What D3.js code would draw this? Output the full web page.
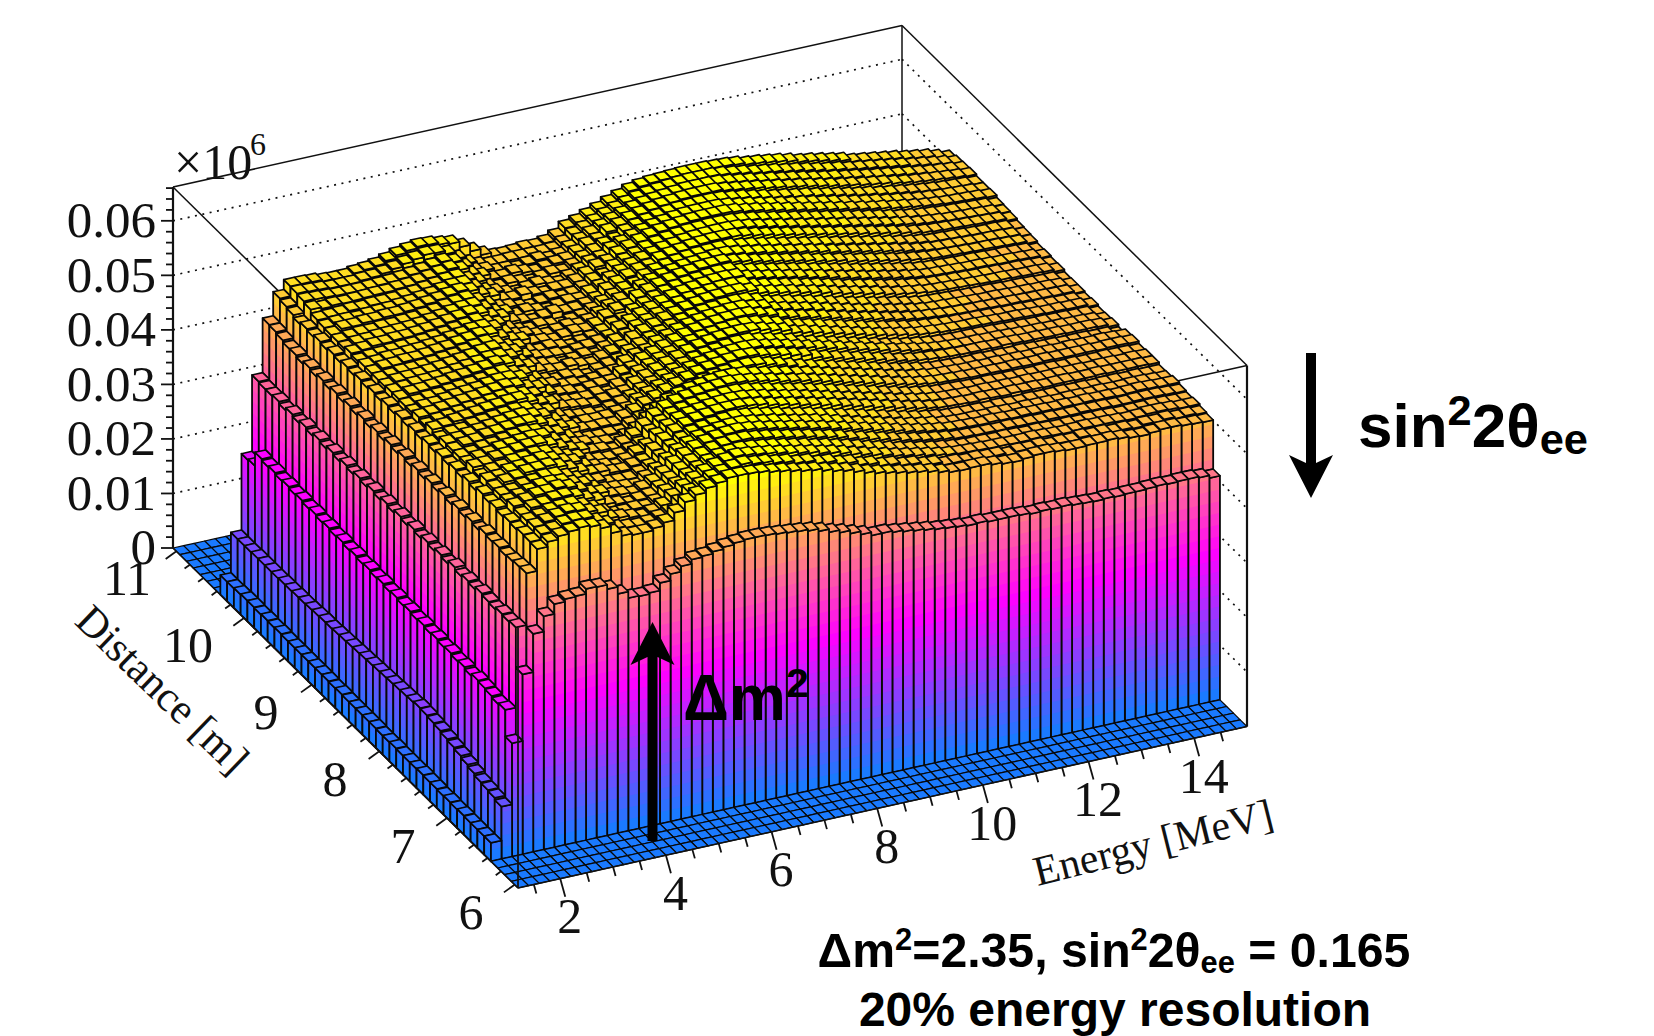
<!DOCTYPE html>
<html>
<head>
<meta charset="utf-8">
<script src="https://cdn.jsdelivr.net/npm/d3@7"></script>
<style>
  html, body { margin: 0; background: #fff; }
  svg { display: block; }
  .root { font-family: "Liberation Serif", serif; fill: #111; }
  .note { font-family: "Liberation Sans", sans-serif; font-weight: 700; fill: #000; }
</style>
</head>
<body>
<svg id="chart" width="1654" height="1036"></svg>
<script>
const energyRange = [1.2, 15];
const distanceRange = [5.95, 11.05];
const zTop = 0.0662;
const energyBinCount = 69;
const distanceBinCount = 51;
const firstFilledRow = 4;
const energyLabels = [2, 4, 6, 8, 10, 12, 14];
const distanceLabels = [6, 7, 8, 9, 10, 11];
const zLabels = [0, 0.01, 0.02, 0.03, 0.04, 0.05, 0.06];

// bin contents, in units of 1e-4, one row per distance bin from the first filled one
const binHeights = [
[34,96,208,330,400,428,446,451,452,461,460,452,439,427,426,428,442,454,464,472,474,478,482,485,487,487,486,484,482,480,477,472,466,461,455,449,443,443,440,437,434,431,428,426,424,422,423,421,421,421,420,418,419,418,419,417,416,415,416,415,416,416,417,418,417,418,418,416,411],
[34,100,257,404,499,539,548,554,558,561,558,551,538,529,526,526,530,536,550,565,574,582,587,592,592,591,589,585,582,578,574,571,566,561,557,551,545,540,536,532,528,525,521,516,512,511,512,512,509,506,505,507,509,509,507,505,505,506,506,507,505,502,501,503,505,505,503,502,501],
[34,102,255,402,498,540,550,553,560,562,561,551,542,530,527,525,527,532,538,552,567,575,584,589,594,596,592,590,585,582,576,574,567,565,558,555,547,544,537,535,529,527,521,519,513,513,510,511,509,509,505,508,507,509,505,506,505,508,506,507,504,505,503,506,505,507,504,505,503],
[34,104,258,404,496,541,551,556,561,565,563,556,550,536,533,529,525,530,538,550,563,573,582,589,594,598,596,593,590,586,582,578,574,569,565,560,554,549,544,539,534,530,526,522,518,515,513,512,511,510,510,509,509,510,509,508,507,508,509,508,508,507,506,507,509,509,508,506,506],
[35,108,260,400,494,538,549,553,559,561,562,555,546,535,526,526,528,526,532,546,555,567,576,584,590,593,594,592,589,586,582,578,574,569,565,560,555,550,544,539,534,529,525,521,517,514,511,509,508,508,507,508,507,506,507,506,505,506,505,506,506,505,504,505,505,506,505,504,504],
[34,112,262,402,497,540,548,557,559,564,565,560,551,544,533,529,524,528,531,541,553,566,576,584,590,594,596,596,593,590,586,582,578,574,569,565,560,554,549,544,539,534,529,525,521,518,515,512,511,510,510,509,510,509,509,508,509,508,508,509,508,508,507,507,508,508,508,507,506],
[35,116,258,405,495,537,552,557,563,564,568,564,555,545,541,532,530,526,532,540,551,565,576,585,591,595,598,599,597,594,590,586,582,578,573,569,564,559,554,549,544,539,534,529,525,521,518,515,514,513,512,513,512,511,512,511,511,510,511,510,511,510,510,509,510,511,510,509,509],
[34,119,262,400,498,541,548,553,558,563,564,562,555,549,537,530,528,526,524,535,545,559,571,580,587,591,594,596,596,593,589,586,581,577,573,569,564,559,553,548,543,538,533,528,524,520,517,513,511,510,510,509,510,509,508,509,508,508,507,508,508,507,508,507,507,508,508,507,506],
[35,122,260,403,492,538,548,550,556,559,563,562,555,546,537,534,526,525,525,531,539,552,566,576,584,588,591,594,595,593,590,586,582,577,573,569,564,559,554,549,544,539,534,529,524,520,516,513,510,509,508,508,507,508,507,506,507,506,506,507,506,506,505,506,506,505,506,505,505],
[35,125,263,399,496,542,548,555,558,564,565,567,561,553,544,536,535,529,528,533,536,553,567,578,586,591,594,597,598,598,596,593,588,584,580,575,571,566,561,556,551,546,541,536,531,526,522,518,515,514,513,512,513,512,511,512,511,511,510,511,511,510,510,511,510,510,510,510,509],
[36,127,261,404,491,536,550,551,558,560,564,567,562,554,549,537,531,528,523,530,540,548,563,575,584,589,592,595,597,598,597,594,590,585,581,577,572,567,562,557,552,547,542,537,532,527,523,519,516,514,513,512,511,512,511,511,510,511,510,510,511,510,510,509,510,510,509,510,509],
[35,129,264,398,495,540,544,551,553,559,560,564,562,554,546,541,530,527,525,527,532,539,557,570,580,585,589,592,594,596,596,594,590,586,581,577,573,568,563,558,553,548,543,538,533,528,523,519,516,513,512,511,510,509,510,509,509,509,508,509,509,508,509,508,508,509,508,508,507],
[35,130,262,402,490,535,550,551,557,559,563,566,567,560,551,543,538,530,529,524,533,543,557,571,581,587,591,594,596,598,600,598,595,591,587,582,578,574,569,564,559,554,549,544,539,534,529,525,521,518,516,515,514,513,513,513,512,513,512,512,513,512,512,512,512,511,512,512,511],
[35,128,265,397,494,538,544,550,553,558,560,563,565,564,552,544,535,533,527,526,523,530,538,552,566,577,584,589,592,595,597,597,595,591,587,583,579,574,570,565,560,555,550,545,540,535,530,525,521,518,515,514,513,512,512,511,512,511,511,510,511,511,510,511,510,510,511,510,509],
[36,127,263,401,489,534,544,546,551,553,557,560,562,560,553,548,536,528,525,524,525,524,534,541,549,557,564,571,578,584,588,591,594,595,593,588,583,577,571,566,561,556,551,546,541,536,531,526,522,518,514,512,511,510,509,510,509,509,508,509,508,507,507,506,506,506,505,505,501],
[35,126,266,396,493,537,544,550,552,557,559,562,565,565,558,550,542,537,529,527,528,526,535,542,551,558,566,573,580,586,590,593,596,598,597,593,589,585,580,575,567,562,557,552,547,542,537,532,527,523,520,518,516,515,514,514,514,513,514,513,512,512,511,511,510,510,510,509,505],
[35,125,264,400,488,533,545,547,551,554,557,560,563,565,560,555,543,534,525,527,526,527,531,533,545,553,561,568,575,582,587,591,594,596,597,596,592,588,583,578,573,568,563,558,553,548,543,538,533,529,525,521,518,516,515,514,514,513,513,512,511,510,510,509,509,508,508,507,503],
[36,124,267,395,492,536,540,546,547,552,554,557,559,562,560,552,547,534,528,525,524,520,527,532,539,548,555,563,570,577,583,587,590,593,595,595,591,587,582,577,569,565,560,555,550,545,540,535,530,526,522,519,516,514,513,512,512,512,511,510,509,509,508,508,507,507,506,506,502],
[36,123,265,399,487,532,546,548,552,554,557,560,562,565,566,558,550,545,533,530,528,524,529,533,535,547,555,563,570,577,584,589,593,596,598,599,598,594,589,584,576,572,567,562,557,552,547,542,537,533,529,525,522,520,518,517,516,516,515,514,513,513,512,511,510,510,509,509,505],
[36,122,268,394,491,535,540,545,547,550,553,555,558,561,563,558,553,540,532,527,525,525,529,525,535,539,551,559,566,573,580,585,589,592,595,596,597,594,589,584,576,571,567,562,557,552,547,542,537,533,529,525,521,519,517,515,514,513,513,512,511,510,510,509,509,508,507,507,503],
[36,121,266,398,486,531,544,546,549,551,554,556,559,562,565,562,554,549,536,530,528,523,527,529,530,542,546,558,565,572,579,585,590,593,596,598,599,598,593,588,580,576,571,567,562,557,552,547,542,538,533,529,525,522,520,518,516,515,514,514,513,512,512,511,510,510,509,509,505],
[36,120,269,393,490,534,540,545,546,549,552,554,556,560,563,563,559,546,537,534,527,526,522,526,530,532,545,553,557,568,575,582,587,591,594,596,598,598,594,590,582,578,573,569,564,559,554,549,544,540,535,531,527,523,520,518,517,516,515,514,513,513,512,511,511,510,510,509,505],
[37,119,267,397,485,530,540,542,545,546,549,551,553,556,560,562,556,551,537,530,525,528,524,520,527,532,536,548,556,563,570,577,583,587,591,593,595,596,595,590,582,578,574,569,565,560,555,550,545,541,536,532,528,524,520,517,516,515,514,513,512,512,511,510,510,509,508,508,504],
[36,118,270,392,489,533,541,546,547,549,551,554,556,559,562,566,562,553,547,535,530,528,532,528,525,533,539,544,556,564,571,578,584,589,593,596,598,600,600,596,588,584,580,576,571,567,562,557,552,548,543,539,534,530,527,524,521,520,519,518,517,516,515,515,514,513,513,512,508],
[37,117,268,396,484,529,541,543,546,547,548,550,553,556,559,563,563,557,543,535,529,526,522,526,530,525,534,543,548,560,567,574,581,586,590,593,596,598,598,596,588,584,580,576,572,567,563,558,553,548,544,540,535,531,527,524,521,519,518,517,516,515,515,514,513,513,512,511,507],
[37,116,271,391,488,532,539,544,545,546,548,550,553,556,559,563,565,557,550,538,531,528,527,523,527,529,533,538,550,558,566,573,580,586,590,593,596,598,599,598,591,587,583,579,575,571,566,562,557,552,548,543,539,535,531,527,524,521,520,519,518,517,517,516,515,515,514,513,509],
[37,116,269,395,483,528,539,541,544,544,545,547,550,552,556,560,563,557,547,542,530,526,529,525,521,525,529,536,545,549,561,569,576,582,587,590,593,595,597,597,591,587,583,579,575,571,567,562,558,553,549,544,540,536,532,528,524,521,519,518,517,516,516,515,514,514,513,512,508],
[37,115,272,390,487,531,539,544,545,547,547,549,552,554,558,561,565,563,552,543,539,529,528,524,528,532,530,536,547,555,558,570,577,583,588,592,595,598,599,600,596,593,588,584,580,576,572,568,563,559,555,550,546,542,538,534,530,527,524,522,521,520,519,518,518,517,516,515,511],
[37,114,270,394,482,527,539,541,544,544,546,547,549,551,555,558,562,563,557,544,535,532,526,522,526,530,527,531,540,549,557,561,572,579,584,588,592,594,596,598,598,595,591,588,584,580,576,572,568,564,559,555,551,547,543,539,535,531,527,524,522,521,520,519,518,518,517,516,512],
[37,113,273,389,486,530,536,539,540,542,543,544,546,548,551,555,558,562,554,548,535,527,524,528,524,520,524,527,535,544,552,560,564,575,581,585,589,592,594,595,596,596,592,589,585,581,577,573,569,565,561,557,553,549,545,541,537,533,529,526,523,522,521,520,519,518,518,517,513],
[37,113,271,393,481,526,539,541,544,544,546,546,548,550,553,557,560,564,560,550,544,532,527,523,527,531,527,528,532,538,551,559,567,574,577,586,590,593,596,598,599,599,598,595,591,587,583,579,575,571,567,563,559,555,551,547,543,539,535,531,528,526,525,524,523,522,521,520,516],
[38,112,274,388,485,529,535,540,541,543,544,545,546,548,551,554,558,561,562,552,541,536,526,530,526,522,526,530,529,538,544,555,563,571,578,583,588,591,594,596,597,598,598,597,594,590,586,582,578,574,570,566,562,558,554,550,546,542,538,535,531,529,527,525,524,523,522,521,517],
[37,112,272,392,480,525,536,539,541,541,543,543,545,546,549,552,556,559,562,554,543,533,530,525,521,525,529,525,527,534,544,548,560,567,574,581,586,590,593,595,596,597,597,596,594,591,587,583,579,575,571,567,563,559,555,551,547,543,539,535,532,529,527,525,524,523,522,521,518],
[38,111,275,387,484,528,536,543,543,545,545,547,547,549,551,554,557,561,564,560,549,542,530,528,532,528,524,528,528,534,543,553,557,568,575,582,588,592,595,597,599,600,600,600,598,594,591,587,583,579,575,571,567,563,559,555,551,547,544,540,537,534,531,529,527,526,525,524,522],
[37,111,273,391,479,524,537,540,541,540,542,543,544,546,548,551,554,558,561,561,550,539,533,526,522,526,530,526,522,530,538,548,552,564,571,578,584,589,592,595,597,598,598,598,596,592,589,585,581,577,573,570,566,562,558,554,550,546,543,539,536,533,530,528,526,525,524,523,521],
[38,111,276,386,483,527,539,540,541,543,542,544,544,545,547,549,552,555,559,561,552,544,530,525,529,525,521,525,529,527,534,544,552,560,564,575,581,586,590,593,595,596,597,597,596,593,590,586,582,578,575,571,568,564,560,556,552,548,545,541,538,535,532,529,527,525,524,523,521],
[38,111,274,390,482,523,546,543,545,544,545,546,547,547,549,550,553,556,560,564,558,545,538,528,527,531,527,523,527,531,533,542,552,556,568,575,582,587,591,594,596,598,599,599,599,596,593,590,587,583,580,576,573,569,565,561,557,554,550,547,544,540,537,534,532,530,528,526,524],
[37,110,277,388,486,528,549,548,547,546,546,546,547,548,549,551,554,557,561,565,560,547,535,532,525,525,522,526,530,526,529,538,548,556,564,572,579,585,589,592,594,596,598,598,598,597,594,591,588,584,581,577,574,570,566,562,559,555,552,548,545,542,539,536,533,530,528,526,523],
[36,110,252,388,489,531,551,550,549,547,547,547,549,550,553,557,562,566,570,569,563,550,537,529,525,525,526,526,526,526,527,535,546,553,561,569,576,582,587,591,593,595,597,598,598,598,596,593,590,586,583,580,576,573,569,565,561,558,554,551,548,545,542,539,535,532,529,526,522],
[36,110,250,390,490,534,552,552,551,548,547,547,550,552,555,560,566,570,573,572,568,565,555,543,532,524,523,524,526,525,528,535,547,553,560,567,575,582,589,593,595,596,597,598,598,598,597,596,594,590,588,585,582,578,573,570,566,562,558,552,549,546,543,540,536,533,530,525,519]
];

const origin = [518, 888];
const energyX = d3.scaleLinear().domain(energyRange).range([0, 729]);
const energyY = d3.scaleLinear().domain(energyRange).range([0, -161.5]);
const distanceX = d3.scaleLinear().domain(distanceRange).range([0, -345]);
const distanceY = d3.scaleLinear().domain(distanceRange).range([0, -340]);
const zY = d3.scaleLinear().domain([0, zTop]).range([0, -361]);
const energyBin = d3.scaleLinear().domain([0, energyBinCount]).range(energyRange);
const distanceBin = d3.scaleLinear().domain([0, distanceBinCount]).range(distanceRange);

const project = (e, d, z) => [
    origin[0] + energyX(e) + distanceX(d),
    origin[1] + energyY(e) + distanceY(d) + zY(z)
];

const palette = d3.scaleLinear()
    .domain([0, 0.027, 0.06])
    .range(['rgb(26,122,255)', 'rgb(255,0,255)', 'rgb(255,255,0)'])
    .clamp(true);
const bandSize = 0.06 / 28;
const bandColor = (k) => palette(k / 27 * 0.06);

const binValue = (i, j) => {
    const row = binHeights[j - firstFilledRow];
    if (!row || i < 0) return 0;
    return (row[i] ?? row[row.length - 1]) / 10000;
};

const svg = d3.select('#chart');
const line = d3.line();
const toPoints = (pts) => pts.map((p) => p.join(',')).join(' ');

const drawLine = (parent, a, b, width, dash) => parent.append('line')
    .attr('x1', a[0]).attr('y1', a[1]).attr('x2', b[0]).attr('y2', b[1])
    .attr('stroke', '#111').attr('stroke-width', width)
    .attr('stroke-dasharray', dash || null);

const [eMin, eMax] = energyRange;
const [dMin, dMax] = distanceRange;

// back walls, drawn before the bins so the bins hide them
const back = svg.append('g');
zLabels.filter((z) => z > 0).forEach((z) => {
    drawLine(back, project(eMin, dMax, z), project(eMax, dMax, z), 1.7, '2 5.5');
    drawLine(back, project(eMax, dMax, z), project(eMax, dMin, z), 1.7, '2 5.5');
});
drawLine(back, project(eMin, dMax, zTop), project(eMax, dMax, zTop), 1.5);
drawLine(back, project(eMax, dMax, zTop), project(eMax, dMin, zTop), 1.5);
drawLine(back, project(eMin, dMax, zTop), project(eMin, dMin, zTop), 1.5);
drawLine(back, project(eMax, dMin, zTop), project(eMin, dMin, zTop), 1.5);
drawLine(back, project(eMax, dMax, 0), project(eMax, dMax, zTop), 1.5);
drawLine(back, project(eMax, dMin, 0), project(eMax, dMin, zTop), 2.2);

// one wall of a bin, cut into colour bands, lowest first so the next band covers the seam
const wallPolygons = (a, b, z0, z1) => {
    const polys = [];
    const start = Math.floor(z0 / bandSize);
    const end = Math.floor(z1 / bandSize);
    for (let k = start; k <= end; k++) {
        const low = Math.max(z0, k * bandSize);
        polys.push({
            points: [project(a[0], a[1], low), project(b[0], b[1], low), project(b[0], b[1], z1), project(a[0], a[1], z1)],
            fill: bandColor(k),
            stroke: 'none',
            width: 0
        });
    }
    polys.push({
        points: [project(a[0], a[1], z0), project(b[0], b[1], z0), project(b[0], b[1], z1), project(a[0], a[1], z1)],
        fill: 'none',
        stroke: '#080808',
        width: 1.8
    });
    return polys;
};

// back to front: highest distance and energy first
const polygons = [];
for (let j = distanceBinCount - 1; j >= 0; j--) {
    for (let i = energyBinCount - 1; i >= 0; i--) {
        const z = binValue(i, j);
        const e0 = energyBin(i), e1 = energyBin(i + 1);
        const d0 = distanceBin(j), d1 = distanceBin(j + 1);
        const left = binValue(i - 1, j);
        const front = binValue(i, j - 1);
        if (z > left) polygons.push(...wallPolygons([e0, d0], [e0, d1], left, z));
        if (z > front) polygons.push(...wallPolygons([e0, d0], [e1, d0], front, z));
        polygons.push({
            points: [project(e0, d0, z), project(e1, d0, z), project(e1, d1, z), project(e0, d1, z)],
            fill: bandColor(Math.floor(z / bandSize)),
            stroke: '#080808',
            width: z > 0 ? 1.6 : 1.2
        });
    }
}

svg.append('g')
    .attr('stroke-linejoin', 'round')
    .selectAll('polygon')
    .data(polygons)
    .join('polygon')
    .attr('points', (d) => toPoints(d.points))
    .attr('fill', (d) => d.fill)
    .attr('stroke', (d) => d.stroke)
    .attr('stroke-width', (d) => d.width);

// axes
const axes = svg.append('g');
drawLine(axes, project(eMin, dMin, 0), project(eMax, dMin, 0), 1.6);
drawLine(axes, project(eMin, dMin, 0), project(eMin, dMax, 0), 1.6);
drawLine(axes, project(eMin, dMax, 0), project(eMin, dMax, zTop), 2.2);
drawLine(axes, project(eMin, dMin, 0), project(eMin, dMin, 0.0477), 1.8);

d3.range(1.5, 15, 0.5).forEach((e) => {
    const p = project(e, dMin, 0);
    const major = Math.abs(e % 2) < 1e-6;
    const len = major ? 1 : 0.5;
    drawLine(axes, p, [p[0] + 5 * len, p[1] + 18 * len], 1.8);
});
d3.range(6, 11.05, 0.2).forEach((d) => {
    const p = project(eMin, d, 0);
    const major = Math.abs(d - Math.round(d)) < 1e-6;
    const len = major ? 1 : 0.5;
    drawLine(axes, p, [p[0] - 10.7 * len, p[1] + 7.7 * len], 1.8);
});
d3.range(0, zTop, 0.002).forEach((z) => {
    const p = project(eMin, dMax, z);
    const major = Math.abs(z / 0.01 - Math.round(z / 0.01)) < 1e-6;
    drawLine(axes, p, [p[0] - (major ? 12 : 7), p[1]], 1.8);
});

const rootText = svg.append('g').attr('class', 'root');
energyLabels.forEach((e) => {
    const p = project(e, dMin, 0);
    rootText.append('text')
        .attr('x', p[0] + 9.5).attr('y', p[1] + 37)
        .attr('dy', '.35em').attr('text-anchor', 'middle').attr('font-size', 50)
        .text(e);
});
const distanceLabelX = { 6: 471, 7: 403, 8: 335, 9: 266, 10: 188, 11: 127 };
distanceLabels.forEach((d) => {
    const p = project(eMin, d, 0);
    rootText.append('text')
        .attr('x', distanceLabelX[d]).attr('y', p[1] + (d < 10 ? 27 : 26))
        .attr('dy', '.35em').attr('text-anchor', 'middle').attr('font-size', 50)
        .text(d);
});
zLabels.forEach((z) => {
    rootText.append('text')
        .attr('x', 156).attr('y', project(eMin, dMax, z)[1] - 1.5)
        .attr('dy', '.35em').attr('text-anchor', 'end').attr('font-size', 51)
        .text(z === 0 ? '0' : z.toFixed(2));
});
rootText.append('text').attr('x', 174).attr('y', 179).attr('font-size', 50).text('×10');
rootText.append('text').attr('x', 250).attr('y', 155).attr('font-size', 32).text('6');
rootText.append('text')
    .attr('transform', 'translate(163,689) rotate(44)')
    .attr('dy', '.35em').attr('text-anchor', 'middle').attr('font-size', 42.5)
    .text('Distance [m]');
rootText.append('text')
    .attr('transform', 'translate(1153,842) rotate(-14)')
    .attr('dy', '.35em').attr('text-anchor', 'middle').attr('font-size', 42)
    .text('Energy [MeV]');

// annotation arrows
const notes = svg.append('g');
const arrow = (x, tip, tail, dir) => {
    const s = dir;
    notes.append('path')
        .attr('fill', '#000')
        .attr('d', line([
            [x, tip], [x + 22, tip + s * 43], [x + 5, tip + s * 35], [x + 5, tail],
            [x - 5, tail], [x - 5, tip + s * 35], [x - 22, tip + s * 43]
        ]) + 'Z');
};
arrow(652.5, 622, 841, 1);
arrow(1311, 498, 353, -1);

const noteText = svg.append('g').attr('class', 'note');
const supsub = (sel, parts, size, scale) => {
    parts.forEach(([text, kind]) => {
        const t = sel.append('tspan').text(text);
        if (kind === 'sup') t.attr('font-size', size * scale).attr('dy', -size * 0.36);
        if (kind === 'sub') t.attr('font-size', size * scale).attr('dy', size * 0.12);
        if (kind === 'afterSup') t.attr('dy', size * 0.36);
        if (kind === 'afterSub') t.attr('dy', -size * 0.12);
    });
};
supsub(noteText.append('text').attr('x', 683).attr('y', 720).attr('font-size', 64),
    [['Δm'], ['2', 'sup']], 64, 0.64);
supsub(noteText.append('text').attr('x', 1358).attr('y', 447).attr('font-size', 62),
    [['sin'], ['2', 'sup'], ['2θ', 'afterSup'], ['ee', 'sub']], 62, 0.7);
supsub(noteText.append('text').attr('x', 1114).attr('y', 967).attr('text-anchor', 'middle').attr('font-size', 48.2),
    [['Δm'], ['2', 'sup'], ['=2.35, sin', 'afterSup'], ['2', 'sup'], ['2θ', 'afterSup'], ['ee', 'sub'], [' = 0.165', 'afterSub']], 48.2, 0.64);
noteText.append('text').attr('x', 1115).attr('y', 1026).attr('text-anchor', 'middle').attr('font-size', 48)
    .text('20% energy resolution');
</script>
</body>
</html>
